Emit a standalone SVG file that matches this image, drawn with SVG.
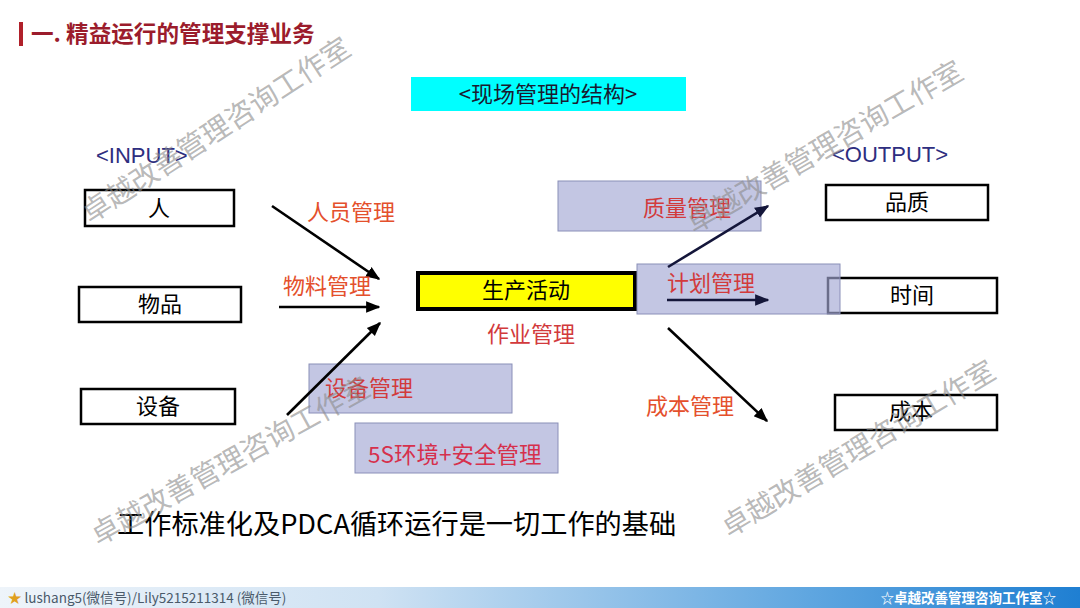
<svg xmlns="http://www.w3.org/2000/svg" width="1080" height="608" viewBox="0 0 1080 608">
<defs>
<style>
.cjk{font-family:"Noto Sans CJK SC","Liberation Sans",sans-serif;}
.lat{font-family:"Liberation Sans","Noto Sans CJK SC",sans-serif;}
.box{fill:#ffffff;stroke:#000000;stroke-width:2.5;}
.lav{fill:#a3a7d4;fill-opacity:0.65;stroke:#8a8fb8;stroke-width:1;}
.lbl{font-size:22px;fill:#000;text-anchor:middle;}
.org{font-size:22px;fill:#e4502c;}
.red{font-size:22px;fill:#d23a3c;}
.wm{font-size:28.5px;fill:#8c8c8c;fill-opacity:0.62;font-family:"Noto Sans CJK SC",sans-serif;}
.arr{stroke:#000;stroke-width:2.6;fill:none;marker-end:url(#ah);}
.arrn{stroke:#14163a;stroke-width:2.6;fill:none;marker-end:url(#ahn);}
</style>
<marker id="ah" viewBox="0 0 10 10" refX="9" refY="5" markerWidth="5.5" markerHeight="5.5" orient="auto" markerUnits="strokeWidth"><path d="M0,1 L10,5 L0,9 z" fill="#000"/></marker>
<marker id="ahn" viewBox="0 0 10 10" refX="9" refY="5" markerWidth="5.5" markerHeight="5.5" orient="auto" markerUnits="strokeWidth"><path d="M0,1 L10,5 L0,9 z" fill="#14163a"/></marker>
<linearGradient id="foot" x1="0" y1="0" x2="1" y2="0">
<stop offset="0" stop-color="#eef4fa"/>
<stop offset="0.35" stop-color="#cfe2f3"/>
<stop offset="0.75" stop-color="#5fa6e0"/>
<stop offset="1" stop-color="#1f7fd2"/>
</linearGradient>
</defs>
<rect x="0" y="0" width="1080" height="608" fill="#ffffff"/>

<g id="title">
<rect x="19" y="22" width="4" height="24" fill="#b0202a"/>
<text x="31" y="42" class="cjk" font-size="22.6" font-weight="bold" fill="#9b1c2c">一. 精益运行的管理支撑业务</text>
</g>

<g id="header">
<rect x="411" y="77" width="275" height="34" fill="#00ffff"/>
<text x="548" y="102" class="cjk" font-size="22" fill="#1a1a30" text-anchor="middle">&lt;现场管理的结构&gt;</text>
</g>

<text x="96" y="163" class="lat" font-size="22" fill="#2e2e80">&lt;INPUT&gt;</text>
<text x="832" y="162" class="lat" font-size="22" fill="#2e2e80">&lt;OUTPUT&gt;</text>

<g id="in-ren"><rect class="box" x="85" y="190" width="149" height="36"/><text class="cjk lbl" x="159" y="216">人</text></g>
<g id="in-wupin"><rect class="box" x="79" y="287" width="162" height="35"/><text class="cjk lbl" x="160" y="312">物品</text></g>
<g id="in-shebei"><rect class="box" x="81" y="389" width="154" height="35"/><text class="cjk lbl" x="158" y="414">设备</text></g>

<g id="prod"><rect x="418" y="273" width="217" height="36" fill="#ffff00" stroke="#000" stroke-width="4"/><text class="cjk lbl" x="526" y="298">生产活动</text></g>

<g id="out-pinzhi"><rect class="box" x="826" y="185" width="162" height="35"/><text class="cjk lbl" x="907" y="210">品质</text></g>
<g id="out-shijian"><rect class="box" x="828" y="278" width="169" height="35"/><text class="cjk lbl" x="912" y="303">时间</text></g>
<g id="out-chengben"><rect class="box" x="835" y="395" width="162" height="35"/><text class="cjk lbl" x="911" y="419">成本</text></g>

<g id="zhiliang"><rect class="lav" x="558" y="181" width="203" height="50"/><text class="cjk red" x="643" y="216">质量管理</text></g>
<g id="jihua"><rect class="lav" x="637" y="264" width="203" height="50"/><text class="cjk red" x="667" y="291">计划管理</text></g>
<g id="shebeiguanli"><rect class="lav" x="309" y="364" width="203" height="49"/><text class="cjk red" x="325" y="396">设备管理</text></g>
<g id="fiveS"><rect class="lav" x="355" y="423" width="203" height="50"/><text class="cjk" x="368" y="463" font-size="22.5" fill="#d6304c">5S环境+安全管理</text></g>

<g id="connectors">
<line class="arr" x1="272" y1="206" x2="379" y2="279"/>
<line class="arr" x1="279" y1="307" x2="379" y2="307"/>
<line class="arr" x1="287" y1="415" x2="380" y2="323"/>
<line class="arrn" x1="668" y1="267" x2="768" y2="206"/>
<line class="arrn" x1="667" y1="300" x2="768" y2="300"/>
<line class="arr" x1="668" y1="328" x2="767" y2="421"/>
</g>

<text class="cjk org" x="307" y="220">人员管理</text>
<text class="cjk org" x="283" y="294">物料管理</text>
<text class="cjk red" x="487" y="342">作业管理</text>
<text class="cjk org" x="646" y="414">成本管理</text>

<text x="117" y="534" class="cjk" font-size="27.2" fill="#000">工作标准化及PDCA循环运行是一切工作的基础</text>

<g id="watermarks">
<text class="wm" transform="translate(90,224) rotate(-33)">卓越改善管理咨询工作室</text>
<text class="wm" transform="translate(694,234) rotate(-30)">卓越改善管理咨询工作室</text>
<text class="wm" transform="translate(98,546) rotate(-29)">卓越改善管理咨询工作室</text>
<text class="wm" transform="translate(729,538) rotate(-31)">卓越改善管理咨询工作室</text>
</g>

<g id="footer">
<rect x="0" y="587" width="1080" height="21" fill="url(#foot)"/>
<text x="8" y="603" class="cjk" font-size="13.5" fill="#4a5a6a"><tspan fill="#e0a020">★</tspan> lushang5(微信号)/Lily5215211314 (微信号)</text>
<text x="1056" y="603" class="cjk" font-size="13.5" font-weight="bold" fill="#ffffff" text-anchor="end">☆卓越改善管理咨询工作室☆</text>
</g>
</svg>
